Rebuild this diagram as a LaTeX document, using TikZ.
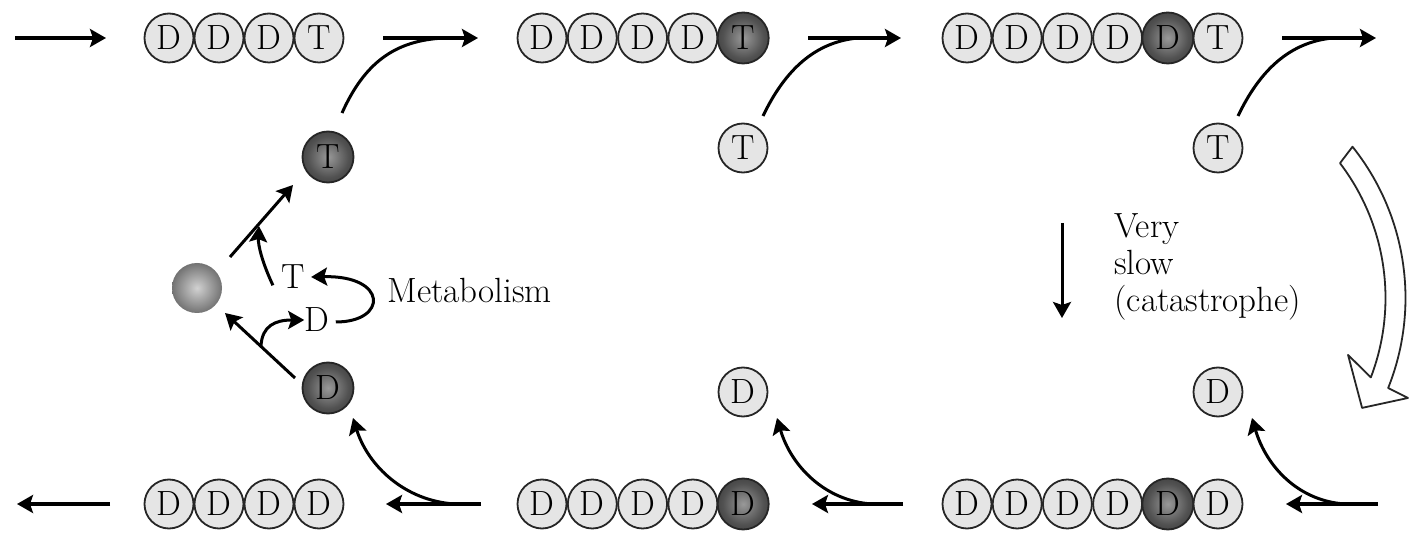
\documentclass[tikz,border=0pt]{standalone}
\usetikzlibrary{arrows.meta,calc}

% shadings for the tagged (dark) beads and the free base
\pgfdeclareradialshading{tagshade}{\pgfpoint{0bp}{0bp}}{color(0bp)=(black!40); color(20bp)=(black!68); color(50bp)=(black!92)}
\pgfdeclareradialshading{baseshade}{\pgfpoint{0bp}{0bp}}{color(0bp)=(black!18); color(25bp)=(black!55); color(50bp)=(black!82)}

\begin{document}
\begin{tikzpicture}[x=0.5pt,y=-0.5pt,
  lbl/.style={font=\fontsize{17.5}{18.5}\selectfont,inner sep=0pt},
  bead/.style={circle,draw=black!85,line width=0.9pt,fill=black!10,
    minimum size=24.5pt,inner sep=0pt,font=\fontsize{17.5}{18.5}\selectfont},
  tagbead/.style={bead,shading=tagshade,minimum size=25.5pt},
  freebase/.style={bead,draw=none,shading=baseshade,minimum size=25pt},
  tip/.style={-{Stealth[length=8pt,width=9pt,inset=1.5pt]}},
  flow/.style={line width=1.9pt,tip},
  branch/.style={line width=1.5pt},
  branchtip/.style={line width=1.5pt,tip},
  hollow/.style={line width=0.9pt,draw=black!85,fill=white,line join=round}
]
\useasboundingbox (0,0) rectangle (1410,534);

% ---------- top chains ----------
\foreach \i/\l in {1/D,2/D,3/D,4/T}
  \node[bead] (a\i) at ({169+50*(\i-1)},38) {\l};
\foreach \i/\l in {1/D,2/D,3/D,4/D}
  \node[bead] (b\i) at ({542+50.3*(\i-1)},38) {\l};
\node[tagbead] (b5) at ({542+50.3*4},38) {T};
\foreach \i/\l in {1/D,2/D,3/D,4/D}
  \node[bead] (c\i) at ({967+50.2*(\i-1)},38) {\l};
\node[tagbead] (c5) at ({967+50.2*4},38) {D};
\node[bead] (c6) at ({967+50.2*5},38) {T};

% ---------- bottom chains ----------
\foreach \i in {1,...,4}
  \node[bead] (d\i) at ({169+50*(\i-1)},504) {D};
\foreach \i in {1,...,4}
  \node[bead] (e\i) at ({542+50.3*(\i-1)},504) {D};
\node[tagbead] (e5) at ({542+50.3*4},504) {D};
\foreach \i in {1,...,4}
  \node[bead] (f\i) at ({967+50.2*(\i-1)},504) {D};
\node[tagbead] (f5) at ({967+50.2*4},504) {D};
\node[bead] (f6) at ({967+50.2*5},504) {D};

% ---------- free nucleotides ----------
\node[tagbead] (tT) at (328,157) {T};
\node[freebase] (fb) at (197,288) {};
\node[tagbead] (dD) at (328,388) {D};
\node[bead] (t2) at (743,148) {T};
\node[bead] (t3) at (1218,148) {T};
\node[bead] (d2) at (743,392) {D};
\node[bead] (d3) at (1218,392) {D};

% ---------- labels ----------
\node[lbl] (labT) at (293,277) {T};
\node[lbl] (labD) at (317,320) {D};
\node[lbl,anchor=west] (met) at (387,290) {Metabolism};
\node[lbl,anchor=north west,align=left] (slow) at (1114,213)
  {Very\\slow\\(catastrophe)};

% ---------- straight flow arrows ----------
\coordinate (inS) at (15,38);   \coordinate (inE) at (106,38);
\coordinate (g1S) at (383,38);  \coordinate (g1E) at (478,38);
\coordinate (g2S) at (808,38);  \coordinate (g2E) at (901,38);
\coordinate (g3S) at (1282,38); \coordinate (g3E) at (1376,38);
\coordinate (s1S) at (481,504); \coordinate (s1E) at (386,504);
\coordinate (s2S) at (903,504); \coordinate (s2E) at (812,504);
\coordinate (s3S) at (1378,504);\coordinate (s3E) at (1286,504);
\coordinate (outS) at (110,504);\coordinate (outE) at (17,504);
\foreach \s in {in,g1,g2,g3,s1,s2,s3,out}
  \draw[flow] (\s S) -- (\s E);

% ---------- growth: free T joins the tip ----------
\coordinate (j1) at (342,113);
\coordinate (j2) at (763,116);
\coordinate (j3) at (1238,116);
\draw[branch] (j1) .. controls (364,64) and (394,40) .. (445,38);
\draw[branch] (j2) .. controls (785,70) and (815,42) .. (858,38);
\draw[branch] (j3) .. controls (1260,70) and (1290,42) .. (1333,38);

% ---------- shrinkage: D leaves the tip ----------
\coordinate (k1) at (455,504); \coordinate (m1) at (353,418);
\coordinate (k2) at (872,504); \coordinate (m2) at (777,418);
\coordinate (k3) at (1345,504);\coordinate (m3) at (1252,418);
\draw[branchtip] (k1) .. controls (405,501) and (368,466) .. (m1);
\draw[branchtip] (k2) .. controls (825,501) and (791,466) .. (m2);
\draw[branchtip] (k3) .. controls (1298,501) and (1266,466) .. (m3);

% ---------- exchange cycle on the free base ----------
\coordinate (u1) at (230,257); \coordinate (u2) at (293,185);
\coordinate (v1) at (295,378); \coordinate (v2) at (225,313);
\draw[branchtip] (u1) -- (u2);
\draw[branchtip] (v1) -- (v2);
\draw[branchtip] (labT.south west) ++(-8,-4) .. controls (262,262) and (258,245) .. (259,226);
\draw[branchtip] (261,346) .. controls (262,326) and (275,320) .. (labD.west);
\draw[branchtip] (labD.east) ++(6,2) .. controls (388,322) and (388,275) .. ($(labT.east)+(6,0)$);

% ---------- catastrophe ----------
\coordinate (cs) at (1062,223); \coordinate (ce) at (1062,318);
\draw[branchtip] (cs) -- (ce);

\draw[hollow]
  plot[domain=-38.6:21.8,samples=50] ({1163+242.5*cos(\x)},{298+242.5*sin(\x)})
  -- ({1163+264.6*cos(22.2)},{298+264.6*sin(22.2)})
  -- ({1163+227.4*cos(28.9)},{298+227.4*sin(28.9)})
  -- ({1163+193.6*cos(17.1)},{298+193.6*sin(17.1)})
  -- plot[domain=20.9:-37.3,samples=50] ({1163+222.5*cos(\x)},{298+222.5*sin(\x)})
  -- cycle;
\end{tikzpicture}
\end{document}
